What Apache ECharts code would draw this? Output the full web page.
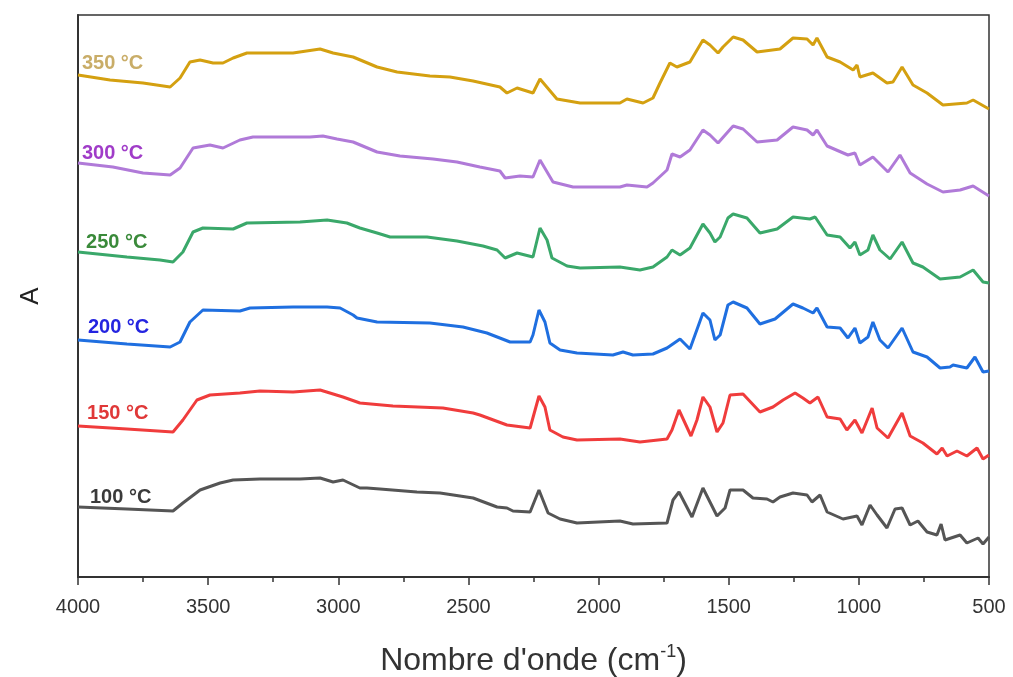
<!DOCTYPE html>
<html>
<head>
<meta charset="utf-8">
<script src="https://cdn.jsdelivr.net/npm/echarts@6/dist/echarts.min.js"></script>
<style>
html,body{margin:0;padding:0;background:#fff;}
#chart{width:1013px;height:677px;}
</style>
</head>
<body>
<div id="chart"></div>
<script>
// x: wavenumber (cm-1), y: absorbance (offset, arbitrary units)
var xTicks = [4000, 3500, 3000, 2500, 2000, 1500, 1000, 500];

var seriesNames = ['350 °C', '300 °C', '250 °C', '200 °C', '150 °C', '100 °C'];

var s350 = [[4000,5.02],[3877,4.97],[3750,4.94],[3646,4.90],[3608,4.99],[3570,5.15],[3531,5.17],[3481,5.14],[3443,5.14],[3404,5.19],[3351,5.24],[3174,5.24],[3070,5.28],[3020,5.24],[2943,5.20],[2851,5.10],[2774,5.05],[2648,5.01],[2571,5.00],[2482,4.96],[2379,4.90],[2352,4.84],[2313,4.89],[2252,4.84],[2225,4.98],[2160,4.78],[2071,4.74],[1918,4.74],[1891,4.78],[1829,4.74],[1791,4.79],[1764,4.94],[1726,5.14],[1699,5.10],[1649,5.15],[1599,5.37],[1572,5.32],[1541,5.24],[1522,5.30],[1483,5.40],[1445,5.37],[1391,5.25],[1303,5.28],[1253,5.39],[1199,5.38],[1176,5.32],[1161,5.39],[1122,5.20],[1072,5.15],[1022,5.07],[1007,5.12],[996,5.00],[946,5.04],[892,4.94],[869,4.95],[834,5.10],[792,4.92],[738,4.84],[677,4.72],[585,4.74],[561,4.77],[500,4.68]];

var s300 = [[4000,4.14],[3866,4.10],[3750,4.04],[3646,4.02],[3608,4.09],[3558,4.29],[3493,4.32],[3443,4.29],[3378,4.37],[3328,4.40],[3109,4.40],[3059,4.41],[3005,4.38],[2943,4.35],[2851,4.25],[2763,4.21],[2636,4.18],[2544,4.15],[2456,4.10],[2379,4.06],[2359,3.99],[2302,4.01],[2252,4.00],[2225,4.17],[2175,3.95],[2098,3.90],[1918,3.90],[1891,3.92],[1814,3.90],[1791,3.94],[1737,4.07],[1718,4.23],[1687,4.20],[1649,4.27],[1599,4.47],[1572,4.42],[1541,4.34],[1507,4.44],[1483,4.51],[1445,4.48],[1391,4.35],[1314,4.37],[1253,4.50],[1199,4.47],[1176,4.42],[1161,4.47],[1122,4.31],[1042,4.22],[1015,4.24],[996,4.12],[946,4.20],[888,4.05],[842,4.22],[803,4.04],[738,3.93],[677,3.85],[611,3.87],[561,3.91],[500,3.81]];

var s250 = [[4000,3.25],[3812,3.20],[3685,3.17],[3635,3.15],[3597,3.25],[3558,3.45],[3520,3.49],[3404,3.48],[3351,3.54],[3147,3.55],[3043,3.57],[2967,3.54],[2917,3.49],[2851,3.44],[2801,3.40],[2659,3.40],[2544,3.36],[2444,3.31],[2390,3.27],[2359,3.19],[2313,3.24],[2252,3.20],[2225,3.49],[2198,3.37],[2179,3.19],[2121,3.11],[2071,3.09],[1918,3.10],[1841,3.07],[1791,3.10],[1737,3.20],[1718,3.27],[1687,3.22],[1649,3.29],[1599,3.53],[1572,3.44],[1553,3.35],[1533,3.40],[1503,3.59],[1483,3.63],[1430,3.59],[1380,3.44],[1314,3.48],[1253,3.60],[1188,3.58],[1168,3.60],[1122,3.42],[1072,3.40],[1034,3.29],[1015,3.35],[996,3.22],[965,3.27],[946,3.42],[919,3.27],[880,3.18],[834,3.35],[792,3.14],[754,3.10],[688,2.98],[611,3.00],[561,3.07],[523,2.95],[500,2.94]];

var s200 = [[4000,2.37],[3812,2.33],[3646,2.30],[3608,2.35],[3570,2.55],[3520,2.67],[3378,2.66],[3339,2.69],[3174,2.70],[3043,2.70],[2993,2.69],[2943,2.62],[2928,2.59],[2851,2.55],[2648,2.54],[2521,2.50],[2429,2.44],[2340,2.35],[2263,2.35],[2252,2.42],[2229,2.67],[2206,2.55],[2187,2.34],[2148,2.27],[2083,2.24],[1945,2.22],[1906,2.25],[1868,2.22],[1791,2.23],[1737,2.29],[1687,2.38],[1649,2.28],[1599,2.64],[1572,2.57],[1553,2.37],[1533,2.42],[1503,2.72],[1483,2.75],[1430,2.69],[1380,2.53],[1322,2.58],[1253,2.73],[1215,2.69],[1176,2.64],[1161,2.69],[1122,2.50],[1072,2.49],[1042,2.39],[1015,2.49],[996,2.34],[965,2.40],[946,2.55],[919,2.37],[888,2.29],[834,2.49],[792,2.25],[738,2.20],[688,2.09],[650,2.10],[638,2.12],[585,2.09],[554,2.20],[523,2.05],[500,2.06]];

var s150 = [[4000,1.51],[3812,1.48],[3635,1.45],[3597,1.57],[3543,1.77],[3493,1.82],[3378,1.84],[3301,1.86],[3174,1.85],[3070,1.87],[2982,1.80],[2917,1.74],[2790,1.71],[2598,1.69],[2482,1.64],[2456,1.62],[2352,1.52],[2263,1.49],[2229,1.81],[2206,1.70],[2187,1.47],[2137,1.40],[2083,1.37],[1918,1.38],[1841,1.35],[1737,1.38],[1718,1.47],[1691,1.67],[1645,1.41],[1622,1.57],[1599,1.80],[1572,1.70],[1545,1.45],[1522,1.54],[1495,1.82],[1445,1.83],[1380,1.65],[1330,1.70],[1291,1.77],[1245,1.84],[1215,1.79],[1188,1.74],[1157,1.80],[1122,1.60],[1072,1.58],[1046,1.47],[1015,1.57],[988,1.44],[949,1.69],[930,1.49],[888,1.39],[834,1.64],[803,1.41],[754,1.34],[700,1.23],[680,1.29],[661,1.21],[623,1.26],[585,1.21],[546,1.29],[523,1.18],[500,1.22]];

var s100 = [[4000,0.70],[3812,0.68],[3635,0.66],[3597,0.74],[3531,0.87],[3454,0.94],[3404,0.97],[3301,0.98],[3147,0.98],[3070,0.99],[3020,0.95],[2982,0.97],[2917,0.89],[2890,0.89],[2840,0.88],[2698,0.85],[2609,0.84],[2482,0.79],[2390,0.70],[2352,0.69],[2329,0.66],[2263,0.65],[2229,0.87],[2194,0.64],[2148,0.58],[2083,0.54],[1918,0.56],[1868,0.53],[1737,0.54],[1714,0.77],[1691,0.85],[1641,0.60],[1599,0.89],[1545,0.61],[1514,0.69],[1495,0.87],[1445,0.87],[1407,0.79],[1353,0.78],[1330,0.75],[1303,0.80],[1253,0.84],[1199,0.82],[1180,0.75],[1149,0.82],[1122,0.65],[1061,0.58],[1007,0.61],[988,0.52],[957,0.72],[930,0.62],[892,0.49],[861,0.68],[834,0.69],[803,0.52],[773,0.56],[738,0.45],[700,0.42],[684,0.53],[669,0.37],[611,0.42],[585,0.34],[542,0.39],[523,0.33],[500,0.40]];

// label anchor (left edge, vertical centre) in data units
var labelX = [3985, 3985, 3969, 3962, 3965, 3954];
var labelY = [5.14, 4.24, 3.35, 2.50, 1.64, 0.80];

var allData = [s350, s300, s250, s200, s150, s100];
var lineColors = ['#d4a010', '#b07ad8', '#3aa86a', '#1f6fe0', '#f03c3c', '#555555'];
var labelColors = ['#c9ad68', '#a03cc8', '#3a8a3a', '#2424e0', '#e03838', '#3a3a3a'];

var chart = echarts.init(document.getElementById('chart'), null, {renderer: 'canvas'});

var series = allData.map(function (d, i) {
  return {
    name: seriesNames[i],
    type: 'line',
    data: d,
    showSymbol: false,
    symbol: 'none',
    lineStyle: {color: lineColors[i], width: 3},
    itemStyle: {color: lineColors[i]},
    z: 3,
    markPoint: {
      symbol: 'circle',
      symbolSize: 0,
      silent: true,
      data: [{
        coord: [labelX[i], labelY[i]],
        label: {
          show: true,
          position: 'right',
          distance: 0,
          formatter: seriesNames[i],
          color: labelColors[i],
          fontFamily: 'Liberation Sans, Arial, sans-serif',
          fontWeight: 'bold',
          fontSize: 20
        }
      }]
    }
  };
});

chart.setOption({
  animation: false,
  backgroundColor: '#ffffff',
  grid: {
    left: 78, right: 24, top: 15, bottom: 100,
    containLabel: false,
    outerBoundsMode: 'none',
    show: true, borderColor: '#333', borderWidth: 1.5, backgroundColor: 'transparent'
  },
  xAxis: {
    type: 'value',
    inverse: true,
    min: 500, max: 4000, interval: 500,
    name: "Nombre d'onde (cm{sup|-1})",
    nameLocation: 'middle',
    nameGap: 66,
    nameTextStyle: {
      fontFamily: 'Liberation Sans, Arial, sans-serif',
      fontSize: 32, color: '#333', lineHeight: 36,
      rich: {sup: {fontSize: 18, verticalAlign: 'top', lineHeight: 36, color: '#333', padding: [0, 0, 16, 0]}}
    },
    axisLine: {show: true, onZero: false, lineStyle: {color: '#333', width: 2}},
    axisTick: {show: true, inside: false, length: 8, lineStyle: {color: '#333', width: 1.5}},
    minorTick: {show: true, splitNumber: 2, length: 5, lineStyle: {color: '#333', width: 1.5}},
    splitLine: {show: false},
    axisLabel: {
      margin: 20, fontSize: 20, color: '#333',
      fontFamily: 'Liberation Sans, Arial, sans-serif',
      formatter: function (v) { return xTicks.indexOf(v) >= 0 ? String(v) : ''; }
    }
  },
  yAxis: {
    type: 'value',
    min: 0, max: 5.62,
    name: 'A',
    nameLocation: 'middle',
    nameGap: 34,
    nameRotate: 90,
    nameTextStyle: {fontFamily: 'Liberation Sans, Arial, sans-serif', fontSize: 26, color: '#222'},
    axisLine: {show: true, onZero: false, lineStyle: {color: '#333', width: 2}},
    axisTick: {show: false},
    axisLabel: {show: false},
    splitLine: {show: false}
  },
  series: series
});
</script>
</body>
</html>
